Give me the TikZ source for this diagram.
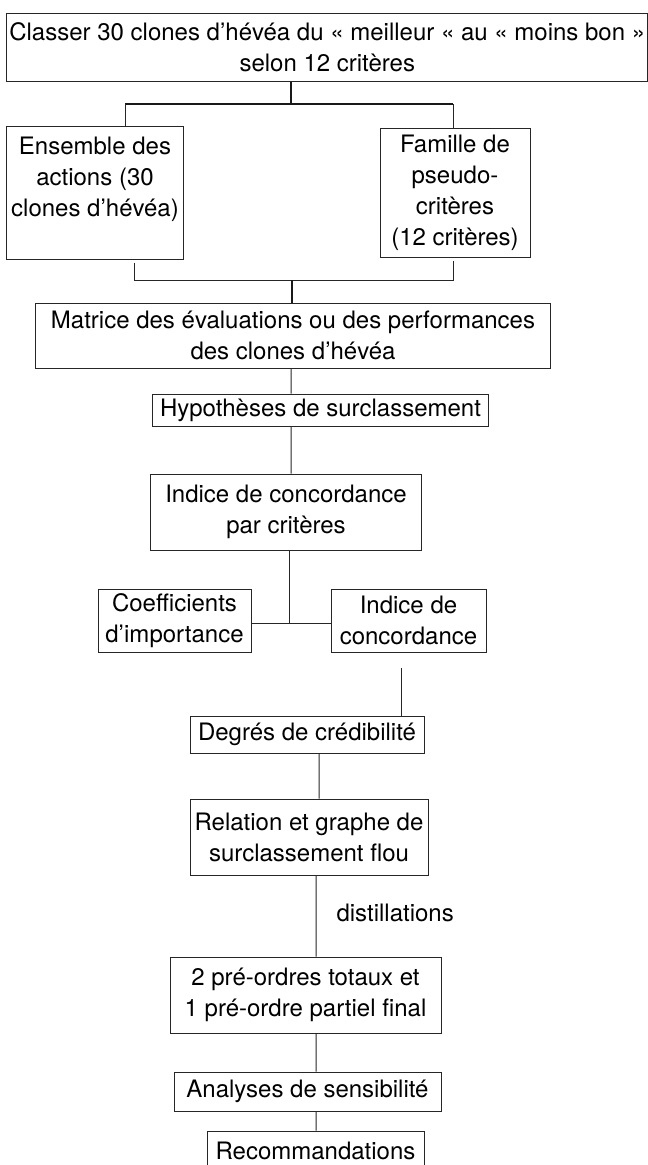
\documentclass[tikz,border=0pt]{standalone}
\usepackage{fontspec}
\setmainfont{TeX Gyre Heros}
\usetikzlibrary{calc,positioning}

\begin{document}
\begin{tikzpicture}[
    x=1bp, y=-1bp,
    every node/.style={font=\fontsize{24bp}{31bp}\selectfont, align=center},
    stage/.style={draw=black!85, line width=1bp, inner sep=0pt},
    link/.style={draw=black!85, line width=1bp},
    trunk/.style={draw=black!90, line width=2bp}
  ]
  \useasboundingbox (0,0) rectangle (648,1165);

  % draw the stages
  \node[stage, minimum width=640.5bp, minimum height=68bp] (goal) at (327.25,47)
    {Classer 30 clones d’hévéa du « meilleur « au « moins bon »\\selon 12 critères};
  \node[stage, minimum width=176bp, minimum height=133bp] (ens) at (95,192.5)
    {Ensemble des\\actions (30\\clones d’hévéa)\\\mbox{}};
  \node[stage, minimum width=150bp, minimum height=129bp] (fam) at (455,192.5)
    {Famille de\\pseudo-\\critères\\(12 critères)};
  \node[stage, minimum width=514bp, minimum height=65bp] (mat) at (293,335.5)
    {Matrice des évaluations ou des performances\\des clones d’hévéa};
  \node[stage, minimum width=335bp, minimum height=32bp] (hyp) at (320.5,410)
    {Hypothèses de surclassement};
  \node[stage, minimum width=270bp, minimum height=76bp] (icc) at (286,512)
    {Indice de concordance\\par critères};
  \node[stage, minimum width=153bp, minimum height=63bp] (coef) at (174.5,620.5)
    {Coefficients\\d’importance};
  \node[stage, minimum width=155bp, minimum height=63bp] (idc) at (408.5,620.5)
    {Indice de\\concordance};
  \node[stage, minimum width=234bp, minimum height=37bp] (deg) at (307,734.5)
    {Degrés de crédibilité};
  \node[stage, minimum width=238bp, minimum height=76bp] (rel) at (309,837)
    {Relation et graphe de\\surclassement flou};
  \node[stage, minimum width=271bp, minimum height=76bp] (pre) at (305.5,995)
    {2 pré-ordres totaux et\\1 pré-ordre partiel final};
  \node[stage, minimum width=267bp, minimum height=39bp] (ana) at (307.5,1091.5)
    {Analyses de sensibilité};
  \node[stage, minimum width=217bp, minimum height=39bp] (rec) at (315.5,1150.5)
    {Recommandations};

  \node[anchor=west] (dist) at (333,913) {distillations};

  % split and merge points
  \coordinate (split) at (291,104);
  \coordinate (splitL) at (125,104);
  \coordinate (splitR) at (453,104);
  \coordinate (mergeL) at (134,280);
  \coordinate (mergeR) at (453,280);
  \coordinate (merge) at (292,280);
  \coordinate (join) at (289,623);
  \coordinate (credit) at (401,668);

  % draw the links
  \draw[trunk] (goal.south -| split) -- (split);
  \draw[trunk] (splitL) -- (splitR);
  \draw[link] (splitL) -- (splitL |- ens.north);
  \draw[link] (splitR) -- (splitR |- fam.north);

  \draw[link] ($(ens.south -| mergeL)+(0,3)$) -- (mergeL) -- (mergeR)
    -- ($(fam.south -| mergeR)+(0,3)$);
  \draw[trunk] (merge) -- (merge |- mat.north);

  \draw[link] ([xshift=-2bp]mat.south) -- ([xshift=-29.5bp]hyp.north);
  \draw[link] ([xshift=-29.5bp]hyp.south) -- ([xshift=5bp]icc.north);
  \draw[link] (icc.south -| join) -- (join);
  \draw[link] (coef.east |- join) -- (idc.west |- join);
  \draw[link] (credit) -- (credit |- deg.north);
  \draw[link] ([xshift=12bp]deg.south) -- ([xshift=10bp]rel.north);
  \draw[link] ([xshift=7bp]rel.south) -- ([xshift=10.5bp]pre.north);
  \draw[link] ([xshift=10.5bp]pre.south) -- ([xshift=8.5bp]ana.north);
  \draw[link] ([xshift=8.5bp]ana.south) -- ([xshift=0.5bp]rec.north);
\end{tikzpicture}
\end{document}
